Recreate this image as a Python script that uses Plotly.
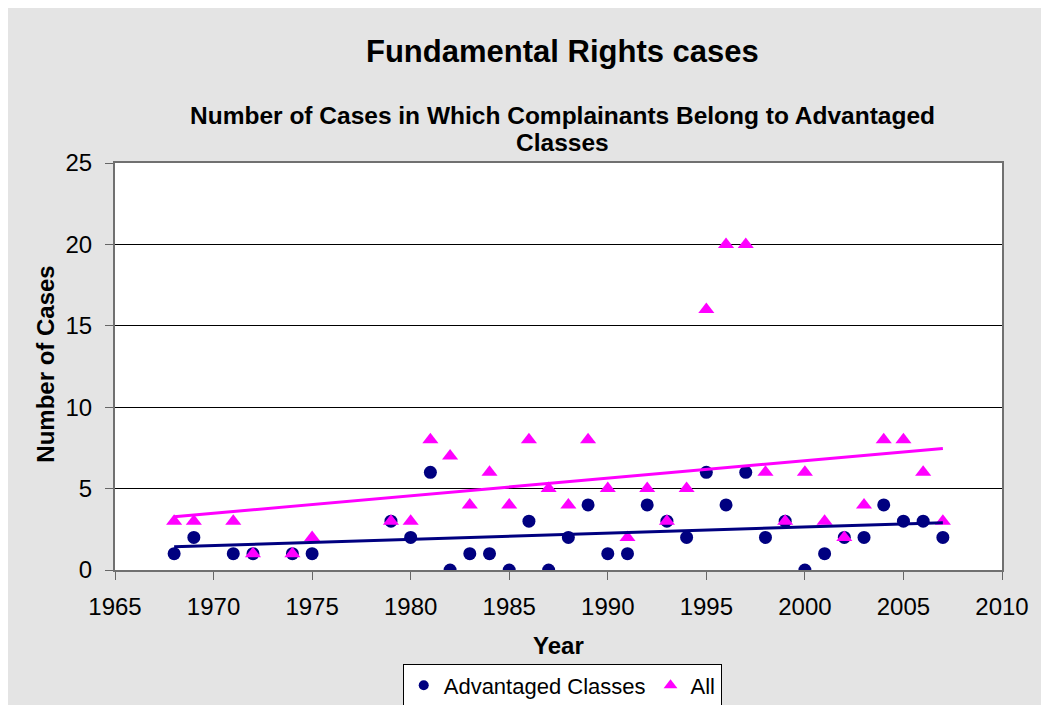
import plotly.graph_objects as go

# ---- data ----
years = [1968, 1969, 1971, 1972, 1974, 1975, 1979, 1980, 1981, 1982, 1983, 1984,
         1985, 1986, 1987, 1988, 1989, 1990, 1991, 1992, 1993, 1994, 1995, 1996,
         1997, 1998, 1999, 2000, 2001, 2002, 2003, 2004, 2005, 2006, 2007]
advantaged = [1, 2, 1, 1, 1, 1, 3, 2, 6, 0, 1, 1,
              0, 3, 0, 2, 4, 1, 1, 4, 3, 2, 6, 4,
              6, 2, 3, 0, 1, 2, 2, 4, 3, 3, 2]
all_cases = [3, 3, 3, 1, 1, 2, 3, 3, 8, 7, 4, 6,
             4, 8, 5, 4, 8, 5, 2, 5, 3, 5, 16, 20,
             20, 6, 3, 6, 3, 2, 4, 8, 8, 6, 3]
# linear trendlines as drawn in the chart (values read at first and last year)
trend_years = [1968, 2007]
trend_advantaged = [1.43, 2.91]
trend_all = [3.27, 7.47]
x_ticks = [1965, 1970, 1975, 1980, 1985, 1990, 1995, 2000, 2005, 2010]
y_ticks = [0, 5, 10, 15, 20, 25]

NAVY = "#000080"
MAGENTA = "#FF00FF"
FONT = "Arial, Liberation Sans, sans-serif"

W, H = 1033, 697          # figure size (page offset by 8px body margin)
OFF = 8
# plot-area pixel frame (page coordinates) for placing annotations
PX0, PX1, PY0, PY1 = 115, 1007.5, 162.5, 570


def px(x):
    return (x - PX0) / (PX1 - PX0)


def py(y):
    return (PY1 - y) / (PY1 - PY0)


def cy(y):
    return 1 - (y - OFF) / H


fig = go.Figure()
fig.add_trace(go.Scatter(x=years, y=advantaged, mode="markers", name="Advantaged Classes",
                         marker=dict(symbol="circle", size=13, color=NAVY), showlegend=False))
fig.add_trace(go.Scatter(x=years, y=all_cases, mode="markers", name="All",
                         marker=dict(symbol="triangle-up", size=14, color=MAGENTA), showlegend=False))
fig.add_trace(go.Scatter(x=trend_years, y=trend_advantaged, mode="lines",
                         line=dict(color=NAVY, width=3), showlegend=False, hoverinfo="skip"))
fig.add_trace(go.Scatter(x=trend_years, y=trend_all, mode="lines",
                         line=dict(color=MAGENTA, width=3), showlegend=False, hoverinfo="skip"))
# legend entries
fig.add_trace(go.Scatter(x=[None], y=[None], mode="markers", name="Advantaged Classes",
                         marker=dict(symbol="circle", size=10, color=NAVY)))
fig.add_trace(go.Scatter(x=[None], y=[None], mode="markers", name="All",
                         marker=dict(symbol="triangle-up", size=12, color=MAGENTA)))

fig.update_layout(
    width=W, height=H,
    margin=dict(l=PX0 - OFF, r=W + OFF - PX1, t=PY0 - OFF, b=H + OFF - PY1, pad=0),
    paper_bgcolor="#e4e4e4",
    plot_bgcolor="white",
    font=dict(family=FONT, color="black", size=24),
    showlegend=True,
    legend=dict(orientation="h", x=px(565), xanchor="center", xref="paper",
                y=cy(685.5), yanchor="middle", yref="container",
                bgcolor="white", bordercolor="black", borderwidth=1,
                font=dict(family=FONT, size=22, color="black"), itemwidth=30,
                tracegroupgap=0),
    xaxis=dict(range=[1965, 2010], tickvals=x_ticks, ticks="outside", ticklen=8,
               tickcolor="#666666", tickwidth=1, showgrid=False, zeroline=False,
               showline=True, linecolor="#707070", linewidth=2, mirror=True,
               ticklabelstandoff=6,
               tickfont=dict(family=FONT, size=24, color="black")),
    yaxis=dict(range=[0, 25], tickvals=y_ticks, ticks="outside", ticklen=8,
               tickcolor="#666666", tickwidth=1, showgrid=True, gridcolor="black",
               gridwidth=1, zeroline=False, showline=True, linecolor="#707070",
               linewidth=2, mirror=True, ticklabelstandoff=8,
               tickfont=dict(family=FONT, size=24, color="black")),
    annotations=[
        dict(text="<b>Fundamental Rights cases</b>", x=px(565), y=py(51), xref="paper", yref="paper",
             xanchor="center", yanchor="middle", showarrow=False, font=dict(family=FONT, size=31)),
        dict(text="<b>Number of Cases in Which Complainants Belong to Advantaged</b>", x=px(565), y=py(115),
             xref="paper", yref="paper", xanchor="center", yanchor="middle", showarrow=False,
             font=dict(family=FONT, size=24.5)),
        dict(text="<b>Classes</b>", x=px(565), y=py(142), xref="paper", yref="paper",
             xanchor="center", yanchor="middle", showarrow=False, font=dict(family=FONT, size=24.5)),
        dict(text="<b>Year</b>", x=px(561), y=py(646), xref="paper", yref="paper",
             xanchor="center", yanchor="middle", showarrow=False, font=dict(family=FONT, size=24)),
        dict(text="<b>Number of Cases</b>", x=px(45), y=py(364), xref="paper", yref="paper",
             xanchor="center", yanchor="middle", textangle=-90, showarrow=False,
             font=dict(family=FONT, size=24)),
    ],
)

fig.write_html("out.html")
